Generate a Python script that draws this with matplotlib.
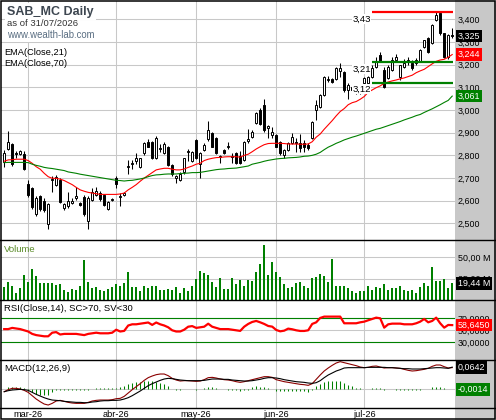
import numpy as np
import matplotlib
matplotlib.use("Agg")
import matplotlib.pyplot as plt
from matplotlib.patches import Rectangle
from matplotlib.lines import Line2D
from matplotlib.ticker import FuncFormatter

plt.rcParams['font.family'] = ['Liberation Sans', 'DejaVu Sans']

# --- daily bars (feb-26 tail .. 31/07/2026) ---
opens = [2.770, 2.828, 2.850, 2.810, 2.806, 2.805, 2.674, 2.655, 2.540, 2.620,
         2.600, 2.496, 2.690, 2.670, 2.690, 2.570, 2.578, 2.592, 2.612, 2.590,
         2.615, 2.511, 2.604, 2.626, 2.636, 2.626, 2.564, 2.605, 2.700, 2.617,
         2.626, 2.748, 2.762, 2.777, 2.750, 2.810, 2.860, 2.858, 2.787, 2.830,
         2.810, 2.838, 2.758, 2.700, 2.690, 2.725, 2.815, 2.777, 2.866, 2.760,
         2.824, 2.870, 2.900, 2.875, 2.793, 2.825, 2.838, 2.795, 2.810, 2.795,
         2.780, 2.862, 2.880, 2.944, 3.000, 3.020, 2.920, 2.890, 2.890, 2.860,
         2.800, 2.824, 2.853, 2.860, 2.853, 2.853, 2.846, 2.875, 3.000, 3.015,
         3.066, 3.130, 3.135, 3.137, 3.170, 3.169, 3.088, 3.100, 3.090, 3.095,
         3.120, 3.120, 3.147, 3.190, 3.242, 3.176, 3.140, 3.176, 3.220, 3.147,
         3.191, 3.213, 3.206, 3.206, 3.213, 3.279, 3.316, 3.294, 3.396, 3.426,
         3.338, 3.235, 3.330]
highs = [2.825, 2.907, 2.855, 2.818, 2.825, 2.820, 2.690, 2.660, 2.620, 2.625,
         2.610, 2.590, 2.710, 2.715, 2.700, 2.590, 2.640, 2.610, 2.660, 2.595,
         2.625, 2.620, 2.655, 2.660, 2.645, 2.630, 2.600, 2.610, 2.710, 2.633,
         2.640, 2.780, 2.780, 2.810, 2.790, 2.860, 2.870, 2.865, 2.885, 2.850,
         2.860, 2.840, 2.760, 2.715, 2.725, 2.790, 2.827, 2.820, 2.870, 2.815,
         2.855, 2.953, 2.905, 2.880, 2.800, 2.830, 2.857, 2.810, 2.815, 2.820,
         2.865, 2.914, 2.910, 2.990, 3.010, 3.047, 2.934, 2.925, 2.892, 2.865,
         2.830, 2.860, 2.900, 2.875, 2.894, 2.868, 2.853, 2.950, 3.045, 3.070,
         3.150, 3.150, 3.140, 3.190, 3.205, 3.170, 3.117, 3.110, 3.105, 3.100,
         3.147, 3.150, 3.200, 3.235, 3.257, 3.190, 3.200, 3.235, 3.245, 3.200,
         3.226, 3.235, 3.220, 3.230, 3.270, 3.310, 3.320, 3.380, 3.430, 3.433,
         3.340, 3.333, 3.360]
lows = [2.750, 2.825, 2.755, 2.790, 2.800, 2.735, 2.618, 2.565, 2.535, 2.555,
        2.550, 2.474, 2.640, 2.665, 2.590, 2.560, 2.570, 2.585, 2.604, 2.575,
        2.535, 2.474, 2.600, 2.620, 2.600, 2.575, 2.560, 2.600, 2.655, 2.577,
        2.620, 2.720, 2.740, 2.760, 2.745, 2.800, 2.835, 2.785, 2.785, 2.815,
        2.805, 2.755, 2.710, 2.680, 2.685, 2.720, 2.775, 2.770, 2.785, 2.700,
        2.820, 2.865, 2.835, 2.805, 2.765, 2.805, 2.826, 2.765, 2.760, 2.760,
        2.775, 2.855, 2.875, 2.940, 2.935, 2.905, 2.875, 2.875, 2.835, 2.800,
        2.790, 2.820, 2.850, 2.816, 2.816, 2.816, 2.824, 2.870, 2.955, 3.010,
        3.060, 3.125, 3.120, 3.130, 3.145, 3.080, 3.047, 3.080, 3.069, 3.069,
        3.110, 3.117, 3.140, 3.184, 3.210, 3.095, 3.135, 3.170, 3.210, 3.130,
        3.185, 3.198, 3.176, 3.200, 3.210, 3.275, 3.250, 3.290, 3.390, 3.330,
        3.230, 3.225, 3.316]
closes = [2.810, 2.858, 2.762, 2.805, 2.820, 2.740, 2.625, 2.574, 2.610, 2.562,
          2.560, 2.585, 2.695, 2.706, 2.596, 2.585, 2.600, 2.598, 2.620, 2.580,
          2.540, 2.614, 2.640, 2.645, 2.607, 2.580, 2.596, 2.608, 2.674, 2.620,
          2.633, 2.750, 2.765, 2.790, 2.787, 2.853, 2.838, 2.787, 2.878, 2.832,
          2.850, 2.758, 2.720, 2.710, 2.720, 2.787, 2.818, 2.816, 2.790, 2.810,
          2.846, 2.910, 2.838, 2.810, 2.795, 2.810, 2.840, 2.792, 2.765, 2.765,
          2.860, 2.870, 2.904, 2.985, 2.940, 2.912, 2.930, 2.905, 2.838, 2.810,
          2.824, 2.853, 2.880, 2.855, 2.831, 2.836, 2.831, 2.949, 3.020, 3.066,
          3.147, 3.135, 3.125, 3.183, 3.183, 3.088, 3.110, 3.090, 3.095, 3.085,
          3.140, 3.147, 3.184, 3.210, 3.213, 3.100, 3.191, 3.220, 3.235, 3.198,
          3.206, 3.220, 3.184, 3.220, 3.264, 3.308, 3.257, 3.374, 3.418, 3.338,
          3.235, 3.330, 3.325]

ema21 = [2.774, 2.780, 2.781, 2.783, 2.783, 2.783, 2.777, 2.765, 2.750, 2.739,
         2.721, 2.706, 2.699, 2.699, 2.695, 2.689, 2.680, 2.671, 2.659, 2.648,
         2.642, 2.637, 2.634, 2.631, 2.628, 2.628, 2.628, 2.628, 2.628, 2.630,
         2.634, 2.648, 2.659, 2.671, 2.686, 2.700, 2.712, 2.724, 2.736, 2.740,
         2.743, 2.743, 2.739, 2.736, 2.736, 2.740, 2.747, 2.753, 2.761, 2.765,
         2.777, 2.783, 2.787, 2.790, 2.791, 2.793, 2.794, 2.794, 2.794, 2.792,
         2.800, 2.805, 2.816, 2.828, 2.838, 2.847, 2.852, 2.853, 2.853, 2.853,
         2.852, 2.850, 2.850, 2.850, 2.849, 2.849, 2.850, 2.860, 2.880, 2.894,
         2.915, 2.934, 2.953, 2.974, 2.993, 3.006, 3.023, 3.032, 3.037, 3.047,
         3.059, 3.078, 3.088, 3.098, 3.106, 3.117, 3.123, 3.128, 3.132, 3.137,
         3.141, 3.147, 3.153, 3.164, 3.172, 3.179, 3.191, 3.203, 3.214, 3.220,
         3.223, 3.232, 3.244]
ema70 = [2.768, 2.769, 2.769, 2.769, 2.769, 2.769, 2.768, 2.761, 2.756, 2.752,
         2.747, 2.744, 2.742, 2.739, 2.736, 2.733, 2.727, 2.724, 2.721, 2.717,
         2.714, 2.711, 2.708, 2.705, 2.702, 2.699, 2.696, 2.693, 2.690, 2.689,
         2.687, 2.689, 2.690, 2.693, 2.696, 2.700, 2.706, 2.711, 2.714, 2.715,
         2.717, 2.718, 2.718, 2.718, 2.720, 2.721, 2.722, 2.724, 2.724, 2.725,
         2.728, 2.731, 2.734, 2.737, 2.739, 2.740, 2.742, 2.743, 2.744, 2.747,
         2.750, 2.753, 2.761, 2.765, 2.769, 2.774, 2.778, 2.781, 2.784, 2.786,
         2.787, 2.789, 2.790, 2.791, 2.793, 2.796, 2.797, 2.800, 2.805, 2.813,
         2.825, 2.836, 2.844, 2.853, 2.860, 2.868, 2.874, 2.880, 2.885, 2.891,
         2.897, 2.903, 2.909, 2.915, 2.919, 2.925, 2.931, 2.937, 2.943, 2.949,
         2.956, 2.962, 2.968, 2.975, 2.980, 2.989, 2.997, 3.005, 3.014, 3.023,
         3.033, 3.042, 3.061]

volume_m = [14.8, 21.6, 17.0, 8.3, 13.6, 29.6, 21.6, 36.4, 28.4, 20.5,
            20.5, 20.5, 19.7, 17.8, 19.0, 11.4, 9.1, 12.5, 11.4, 17.0,
            46.6, 21.6, 13.6, 14.8, 11.4, 10.2, 12.5, 14.8, 18.2, 17.0,
            20.5, 33.0, 14.8, 14.8, 10.2, 15.9, 13.6, 17.0, 15.9, 11.4,
            11.4, 12.5, 11.4, 14.8, 8.3, 13.6, 10.2, 15.9, 25.0, 34.0,
            31.8, 29.6, 21.6, 14.8, 26.0, 12.5, 12.5, 26.0, 18.2, 23.9,
            17.0, 23.9, 22.7, 33.0, 42.0, 64.8, 29.6, 44.3, 33.0, 27.3,
            19.3, 13.6, 14.8, 20.5, 21.6, 15.9, 13.6, 26.0, 27.3, 30.7,
            28.4, 21.6, 47.8, 15.9, 15.9, 15.9, 13.6, 10.2, 8.0, 10.2,
            10.2, 17.0, 11.4, 14.8, 13.6, 18.2, 11.4, 13.6, 13.6, 15.9,
            11.4, 10.2, 11.4, 8.0, 14.8, 20.5, 15.9, 38.6, 22.7, 22.7,
            25.0, 13.6, 19.44]

rsi14 = [52, 52, 54, 53, 52, 50, 48, 44, 42, 41,
         40, 40, 46, 47, 43, 44, 44, 44, 44, 43,
         42, 44, 45, 46, 45, 45, 45, 46, 51, 48,
         49, 58, 60, 60, 61, 62, 63, 59, 63, 60,
         58, 55, 50, 48, 48, 51, 56, 57, 54, 55,
         56, 61, 56, 54, 52, 52, 52, 51, 50, 49,
         56, 60.6, 63.9, 65.6, 63.3, 60.6, 57.2, 56.1, 50.6, 48.3,
         49.4, 52.8, 51.7, 50.0, 48.9, 48.9, 50.0, 60.6, 63.3, 70.6,
         72.8, 72.8, 72.8, 72.8, 72.8, 61.7, 61.7, 61.7, 61.7, 63.3,
         64.4, 66.7, 68.9, 71.1, 70.0, 54.4, 60.0, 61.1, 61.1, 61.1,
         60.0, 60.0, 60.0, 61.7, 64.4, 68.9, 63.3, 65.6, 71.1, 61.7,
         54.4, 58.9, 58.645]

# MACD(12,26,9) in thousandths
macd_milli = [-8, -2, 2, 2, 0, -4, -10, -20, -30, -38,
              -45, -48, -43, -36, -34, -37, -40, -42, -43, -43,
              -43, -40, -36, -34, -33, -33, -33, -32, -29, -28,
              -22, -12, -2, 7, 16, 26, 34, 39, 43, 45,
              45, 40, 32, 27, 24, 25, 25, 24, 23, 24,
              28, 34, 35, 33, 30, 28, 27, 25, 22, 20,
              22, 25, 28, 31, 34, 37, 37, 35, 28, 25,
              22, 20, 18, 16, 14, 13, 11, 16, 29, 42,
              54, 63, 71, 78, 82, 79, 76, 73, 70, 66,
              64, 65, 68, 69, 66, 63, 64, 64, 63, 62,
              59, 56, 54, 55, 57, 59, 62, 68, 72, 72,
              67, 63, 64.2]
signal_milli = [-8, -5, -3, -2, -1, -2, -4, -10, -16, -21,
                -26, -30, -33, -34, -35, -37, -38, -39, -40, -40,
                -41, -41, -39, -38, -36, -35, -35, -34, -34, -33,
                -30, -26, -20, -13, -6, 2, 10, 16, 21, 26,
                30, 32, 31, 29, 27, 26, 25, 25, 25, 25,
                26, 28, 30, 30, 30, 29, 29, 27, 26, 25,
                24, 24, 25, 27, 29, 32, 34, 34, 33, 31,
                28, 26, 24, 22, 21, 20, 18, 17, 19, 25,
                34, 42, 48, 54, 58, 63, 64, 64, 64, 64,
                64, 65, 65, 65, 65, 65, 64, 64, 63, 62,
                61, 61, 60, 60, 60, 61, 62, 63, 64, 64,
                63, 62, 65.6]
hist_milli = [0, 5, 6, 6, 5, 3, -6, -10, -14, -17,
              -19, -18, -10, -3, -2, -2, -2, -3, -3, -3,
              -2, -2, 1, 3, 3, 3, 3, 3, 4, 5,
              8, 14, 18, 20, 22, 24, 24, 23, 22, 19,
              15, 8, 1, -2, -3, -1, 0, -1, -2, -1,
              2, 6, 5, 3, 0, -1, -2, -2, -4, -5,
              -3, -2, 7, 8, 7, 5, 3, 0, -5, -6,
              -6, -6, -6, -6, -7, -7, -8, -3, 8, 14,
              20, 24, 25, 25, 24, 18, 13, 8, 4, 2,
              0, 0, 3, 4, 2, -2, -1, 0, -2, -2,
              -2, -3, -3, -3, -2, 0, 1, 5, 7, 6,
              2, 0, -1.4]

month_first_bar = [6, 28, 48, 68, 90]
month_labels = ['mar-26', 'abr-26', 'may-26', 'jun-26', 'jul-26']

levels = [3.43, 3.21, 3.12]
level_colors = ['#ff0000', '#008000', '#008000']
level_from = 92

price_ticks = [2.5, 2.6, 2.7, 2.8, 2.9, 3.0, 3.1, 3.2, 3.3, 3.4]
vol_ticks = [25, 50]
rsi_ticks = [30, 50, 70]


def comma(v, dec):
    return f"{v:.{dec}f}".replace('.', ',')


W, H = 496, 420
fig = plt.figure(figsize=(W / 100, H / 100), dpi=100)
fig.patch.set_facecolor('white')

# grey price-scale strip on the right
fig.add_artist(Rectangle((455 / W, 0), 41 / W, 1, transform=fig.transFigure,
                         fc='#c8c8c8', ec='none', zorder=-1))


def panel(top, bottom):
    return fig.add_axes([1 / W, 1 - bottom / H, 454 / W, (bottom - top) / H])


ax = panel(0.5, 240.5)
axv = panel(240.5, 300.0)
axr = panel(300.0, 360.0)
axm = panel(360.0, 407.7)

n = len(closes)
x = np.arange(n)
for a in (ax, axv, axr, axm):
    a.set_xlim(-0.8, n - 0.3)
    for s in a.spines.values():
        s.set_visible(False)
    a.set_xticks(month_first_bar)
    a.tick_params(axis='x', length=0, labelbottom=False)
    a.yaxis.tick_right()
    a.tick_params(axis='y', length=0, pad=2, labelsize=6.4, labelcolor='black')
    a.grid(True, color='#c8c8c8', lw=0.75)
    a.set_axisbelow(True)

# price panel
o = np.array(opens)
c = np.array(closes)
ax.vlines(x, lows, highs, color='black', lw=0.75, zorder=3)
ax.bar(x, np.maximum(np.abs(c - o), 0.003), bottom=np.minimum(o, c), width=0.6,
       color=np.where(c >= o, 'white', 'black'), edgecolor='black', lw=0.7, zorder=4)
ax.plot(x, ema21, color='#ff0000', lw=0.8, zorder=5)
ax.plot(x, ema70, color='#008000', lw=0.8, zorder=5)
for lv, col in zip(levels, level_colors):
    ax.hlines(lv, level_from - 0.1, n - 0.9, color=col, lw=1.6, zorder=6)
    ax.annotate(comma(lv, 2), xy=(level_from - 0.4, lv), xytext=(0, -1.5),
                textcoords='offset points', ha='right', va='top', fontsize=6.8,
                bbox=dict(fc='white', ec='none', pad=0.3), zorder=7)
ax.set_ylim(2.425, 3.482)
ax.set_yticks(price_ticks)
ax.yaxis.set_major_formatter(FuncFormatter(lambda v, p: comma(v, 3)))

# volume
axv.bar(x, volume_m, width=0.5, color='#008000', zorder=3)
axv.set_ylim(0, 69.8)
axv.set_yticks(vol_ticks)
axv.yaxis.set_major_formatter(FuncFormatter(lambda v, p: comma(v, 2) + ' M'))

# RSI
axr.set_ylim(0.5, 100.5)
axr.set_yticks(rsi_ticks)
axr.yaxis.set_major_formatter(FuncFormatter(lambda v, p: comma(v, 4)))
axr.axhline(70, color='#008000', lw=0.8, zorder=2)
axr.axhline(30, color='#008000', lw=0.8, zorder=2)
axr.plot(x, rsi14, color='#ff0000', lw=1.6, zorder=4)

# MACD
macd = np.array(macd_milli) / 1000
signal = np.array(signal_milli) / 1000
hist = np.array(hist_milli) / 1000
axm.vlines(x, 0, hist, color='#008000', lw=0.75, zorder=3)
axm.plot(x, macd, color='#8b0000', lw=0.8, zorder=4)
axm.plot(x, signal, color='black', lw=0.8, zorder=4)
axm.set_ylim(-0.056, 0.087)
axm.set_yticks([0])
axm.tick_params(axis='y', labelright=False)
axm.set_xticklabels(month_labels)
axm.tick_params(axis='x', labelbottom=True, pad=1.5, labelsize=6.6)


def tag(a, val, txt, fc):
    a.annotate(txt, xy=(1, val), xycoords=a.get_yaxis_transform(), xytext=(2.0, 0),
               textcoords='offset points', ha='left', va='center', fontsize=6.4,
               color='white', bbox=dict(boxstyle='square,pad=0.2', fc=fc, ec='none'),
               annotation_clip=False, zorder=10)


tag(ax, closes[-1], comma(closes[-1], 3), 'black')
tag(ax, ema21[-1], comma(ema21[-1], 3), '#ff0000')
tag(ax, ema70[-1], comma(ema70[-1], 3), '#008000')
tag(axv, volume_m[-1], comma(volume_m[-1], 2) + ' M', 'black')
tag(axr, rsi14[-1], comma(rsi14[-1], 4), '#ff0000')
tag(axm, macd[-1], comma(macd[-1], 4), 'black')
tag(axm, hist[-1], comma(hist[-1], 4), '#008000')

# header + panel captions
white = dict(fc='white', ec='none', pad=1.5)
fig.text(7 / W, 1 - 11.5 / H, 'SAB_MC Daily', fontsize=9, fontweight='bold',
         color='#3d4650', va='center', bbox=white)
fig.text(7 / W, 1 - 24 / H, 'as of 31/07/2026', fontsize=6.8, color='#333333',
         va='center', bbox=white)
fig.text(7 / W, 1 - 34.5 / H, 'www.wealth-lab.com', fontsize=6.9, color='#5a6e82',
         va='center', bbox=white)
fig.text(4 / W, 1 - 52.5 / H, 'EMA(Close,21)', fontsize=6.7, color='black', va='center')
fig.text(4 / W, 1 - 63 / H, 'EMA(Close,70)', fontsize=6.7, color='black', va='center')
fig.text(4 / W, 1 - 250 / H, 'Volume', fontsize=6.8, color='#5b8c2a', va='center')
fig.text(4 / W, 1 - 308.5 / H, 'RSI(Close,14), SC>70, SV<30', fontsize=6.8,
         color='black', va='center')
fig.text(4 / W, 1 - 368.5 / H, 'MACD(12,26,9)', fontsize=6.8, color='black', va='center')

# panel separators and outer frame
for yy in (240.5, 300.0, 360.0, 407.7):
    fig.add_artist(Line2D([0, 1], [1 - yy / H, 1 - yy / H], transform=fig.transFigure,
                          color='black', lw=1.0, zorder=20))
fig.add_artist(Rectangle((0.6 / W, 0.6 / H), 1 - 1.2 / W, 1 - 1.2 / H, transform=fig.transFigure,
                         fill=False, ec='black', lw=1.1, zorder=20))

fig.savefig('out.png', dpi=100)
